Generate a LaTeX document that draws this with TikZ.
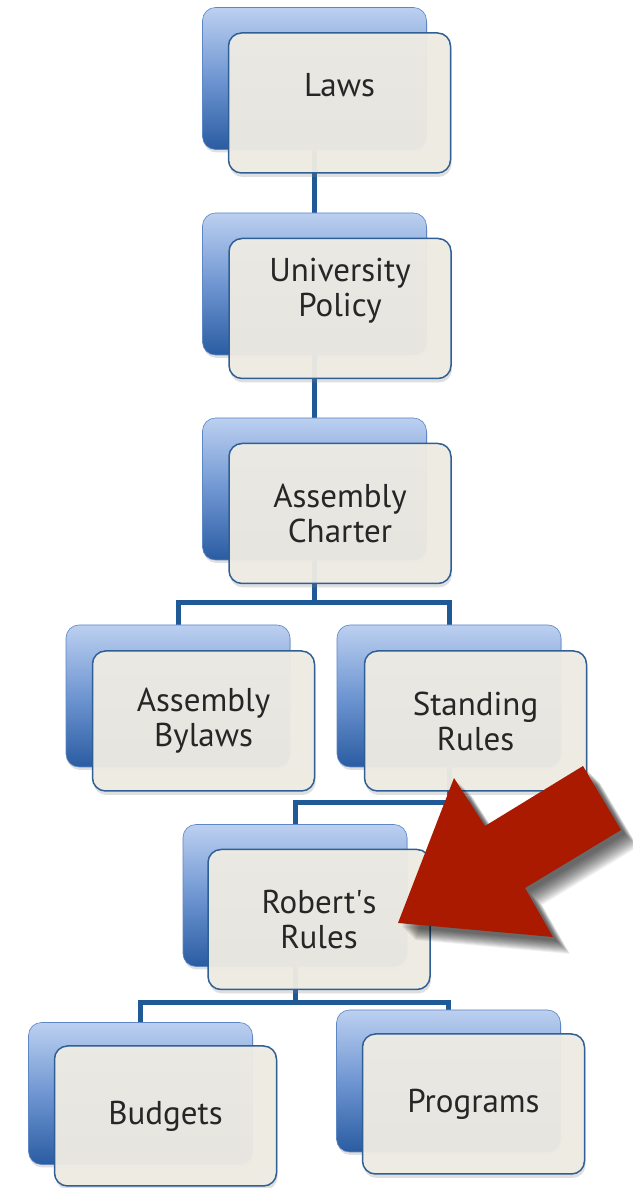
\documentclass[tikz,border=0pt]{standalone}
\usepackage{fontspec}
\setmainfont{PT Sans}
\usetikzlibrary{shadows}
\pgfdeclarelayer{background}
\pgfdeclarelayer{canvas}
\pgfsetlayers{canvas,background,main}
\definecolor{lineblue}{HTML}{1F5A97}
\definecolor{bluetop}{HTML}{BCD0F0}
\definecolor{bluemid}{HTML}{6F96D2}
\definecolor{bluebot}{HTML}{2A5CA2}
\definecolor{blueedge}{HTML}{5D86C4}
\definecolor{frontfill}{HTML}{EFECE4}
\definecolor{frontedge}{HTML}{2F5F95}
\definecolor{textgray}{HTML}{262626}
\definecolor{arrowred}{HTML}{AA1A00}
\tikzset{
  x=1pt, y=1pt,
  backbox/.style={minimum width=224pt, minimum height=142pt, inner sep=0pt,
    rounded corners=13pt, top color=bluetop, bottom color=bluebot, middle color=bluemid,
    draw=blueedge, line width=0.6pt,
    drop shadow={shadow xshift=1pt, shadow yshift=-3pt, opacity=0.25}},
  frontbox/.style={minimum width=222pt, minimum height=140pt, inner sep=0pt,
    rounded corners=13pt, fill=frontfill, fill opacity=0.95, draw=frontedge, line width=1.5pt,
    drop shadow={shadow xshift=1pt, shadow yshift=-4pt, opacity=0.25}},
  lbl/.style={font=\fontsize{33}{35}\selectfont, text=textgray, align=center, inner sep=0pt},
  conn/.style={draw=lineblue, line width=5pt}
}
\begin{document}
\begin{tikzpicture}
\useasboundingbox (0,0) rectangle (632,1188);
\begin{pgfonlayer}{canvas}
\fill[white] (0,0) rectangle (632,1188);
\end{pgfonlayer}

% back (blue) boxes
\node[backbox] (lawsB) at (314.5,1109.5) {};
\node[backbox] (upB)   at (314.5,904) {};
\node[backbox] (acB)   at (314.5,699) {};
\node[backbox] (ablB)  at (178,492) {};
\node[backbox] (srB)   at (449,492) {};
\node[backbox] (rrB)   at (295,292.5) {};
\node[backbox] (budB)  at (140.5,94.5) {};
\node[backbox] (proB)  at (448.5,107) {};

% front boxes
\node[frontbox] (lawsF) at (339.5,1085) {};
\node[frontbox] (upF)   at (340,879.5) {};
\node[frontbox] (acF)   at (340,674.5) {};
\node[frontbox] (ablF)  at (203.5,467) {};
\node[frontbox] (srF)   at (475.5,467) {};
\node[frontbox] (rrF)   at (319,268.5) {};
\node[frontbox] (budF)  at (165.5,72) {};
\node[frontbox] (proF)  at (473.5,84) {};

% labels
\node[lbl] (lawsT) at ([yshift=18pt]lawsF.center) {Laws};
\node[lbl] (upT)   at ([yshift=18pt]upF.center) {University\\Policy};
\node[lbl] (acT)   at (acF.center) {Assembly\\Charter};
\node[lbl] (ablT)  at (ablF.center) {Assembly\\Bylaws};
\node[lbl] (srT)   at (srF.center) {Standing\\Rules};
\node[lbl] (rrT)   at (rrF.center) {Robert\textquotesingle s\\Rules};
\node[lbl] (budT)  at (budF.center) {Budgets};
\node[lbl] (proT)  at (proF.center) {Programs};

% connectors (behind the boxes)
\coordinate (bus1) at (0,585);
\coordinate (bus2) at (0,385);
\coordinate (bus3) at (0,185);
\begin{pgfonlayer}{background}
\draw[conn] (lawsB.center) -- (upB.center);
\draw[conn] (upB.center) -- (acB.center);
\draw[conn] (acB.center) -- (acB.center |- bus1) -| (ablB.center);
\draw[conn] (acB.center |- bus1) -| (srB.center);
\draw[conn] (srB.center) -- (srB.center |- bus2) -| (rrB.center);
\draw[conn] (rrB.center) -- (rrB.center |- bus3) -| (budB.center);
\draw[conn] (rrB.center |- bus3) -| (proB.center);
\end{pgfonlayer}

% red arrow with soft shadow
\foreach \s in {4,5,...,17}{
  \fill[black, opacity=0.06, shift={(\s,-\s)}]
    (398,265) -- (454,410) -- (485,362) -- (583,422) -- (621,358) -- (525,300) -- (553,251) -- cycle;
}
\fill[arrowred] (398,265) -- (454,410) -- (485,362) -- (583,422) -- (621,358) -- (525,300) -- (553,251) -- cycle;
\end{tikzpicture}
\end{document}
